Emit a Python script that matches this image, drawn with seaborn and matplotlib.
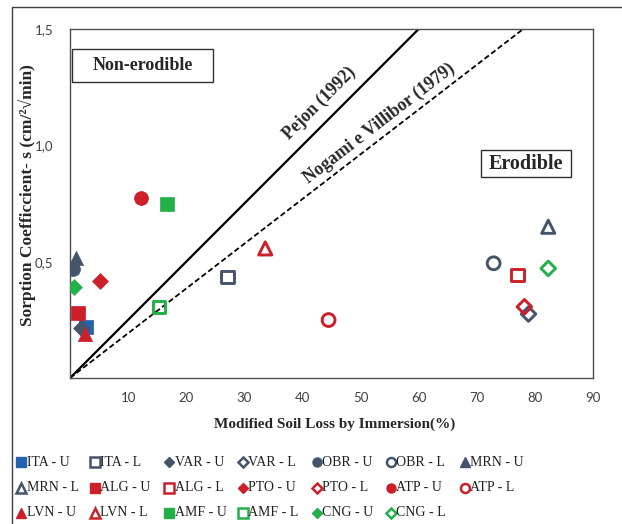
import numpy as np
import pandas as pd
import seaborn as sns
import matplotlib.pyplot as plt
from matplotlib.lines import Line2D
from matplotlib.patches import Rectangle

# samples
samples = ["ITA - U", "ITA - L", "VAR - U", "VAR - L", "OBR - U", "OBR - L", "MRN - U",
           "MRN - L", "ALG - U", "ALG - L", "PTO - U", "PTO - L", "ATP - U", "ATP - L",
           "LVN - U", "LVN - L", "AMF - U", "AMF - L", "CNG - U", "CNG - L"]
soil_loss = [2.75, 27.1, 1.84, 78.9, 0.57, 72.9, 1.03,
             82.3, 1.43, 77.0, 5.16, 78.2, 12.2, 44.5,
             2.58, 33.6, 16.7, 15.3, 0.74, 82.3]
sorption = [0.22, 0.435, 0.213, 0.275, 0.467, 0.493, 0.514,
            0.65, 0.28, 0.443, 0.417, 0.306, 0.775, 0.249,
            0.19, 0.557, 0.748, 0.304, 0.392, 0.471]

navy = "#44546A"
blue = "#2463AE"
red = "#CC1F2A"
green = "#22B04B"
colors = [blue, navy, navy, navy, navy, navy, navy,
          navy, red, red, red, red, red, red,
          red, red, green, green, green, green]
markers = ["s", "s", "D", "D", "o", "o", "^",
           "^", "s", "s", "D", "D", "o", "o",
           "^", "^", "s", "s", "D", "D"]
filled = [s.endswith("U") for s in samples]

# criteria lines: s = loss / k
pejon_k = 40
nogami_k = 52

df = pd.DataFrame({"sample": samples, "loss": soil_loss, "s": sorption})

sns.set_theme(style="white")
serif = ["Liberation Serif", "DejaVu Serif"]
plt.rcParams["font.family"] = ["Lato", "DejaVu Sans"]

fig = plt.figure(figsize=(6.22, 5.24), dpi=100)
ax = fig.add_axes([70 / 622, 1 - 378 / 524, 523 / 622, 349 / 524])

sizes = {"o": 100, "s": 90, "D": 65, "^": 105}
for i, row in df.iterrows():
    m = markers[i]
    if filled[i]:
        sns.scatterplot(x=[row["loss"]], y=[row["s"]], ax=ax, marker=m, s=sizes[m],
                        color=colors[i], edgecolor=colors[i], linewidth=0.5, zorder=3)
    else:
        sns.scatterplot(x=[row["loss"]], y=[row["s"]], ax=ax, marker=m, s=sizes[m] * 0.85,
                        facecolor="none", edgecolor=colors[i], linewidth=2.1, zorder=3)

xs = np.array([0, 90])
ax.plot(xs, xs / pejon_k, color="black", lw=1.6, zorder=2)
ax.plot(xs, xs / nogami_k, color="black", lw=1.3, ls=(0, (3, 1.6)), zorder=2)

ax.set_xlim(0, 90)
ax.set_ylim(0, 1.5)
ax.set_xticks([10, 20, 30, 40, 50, 60, 70, 80, 90])
ax.set_yticks([0.5, 1.0, 1.5])
ax.set_yticklabels(["0,5", "1,0", "1,5"])
ax.tick_params(axis="both", length=0, labelsize=9.5, labelcolor="#404040")
ax.tick_params(axis="x", pad=10)
ax.tick_params(axis="y", pad=12)
for sp in ax.spines.values():
    sp.set_color("#505050")
    sp.set_linewidth(1.0)
ax.set_xlabel("")
ax.set_ylabel("")

# rotated criterion labels
def line_angle(k):
    p0 = ax.transData.transform((0, 0))
    p1 = ax.transData.transform((60, 60 / k))
    return np.degrees(np.arctan2(p1[1] - p0[1], p1[0] - p0[0]))

ax.text(42.9, 1.18, "Pejon (1992)", rotation=line_angle(pejon_k), rotation_mode="anchor",
        ha="center", va="center", fontsize=12.8, fontweight="bold", family=serif)
ax.text(53.3, 1.095, "Nogami e Villibor (1979)", rotation=line_angle(nogami_k),
        rotation_mode="anchor", ha="center", va="center", fontsize=12.8,
        fontweight="bold", family=serif)

# region boxes
ax.add_patch(Rectangle((0.35, 1.272), 24.2, 0.142, facecolor="white", edgecolor="#303030",
                       lw=1.0, zorder=4))
ax.text(12.45, 1.343, "Non-erodible", ha="center", va="center", fontsize=13,
        fontweight="bold", family=serif, zorder=5)
ax.add_patch(Rectangle((70.7, 0.864), 15.5, 0.116, facecolor="white", edgecolor="#303030",
                       lw=1.0, zorder=4))
ax.text(78.45, 0.92, "Erodible", ha="center", va="center", fontsize=14.5,
        fontweight="bold", family=serif, zorder=5)

# axis titles
fig.text(335 / 622, 1 - 424 / 524, "Modified Soil Loss by Immersion(%)", ha="center",
         va="center", fontsize=11, fontweight="bold", family=serif)
fig.text(27 / 622, 1 - 195 / 524, "Sorption Coefficcient- s (cm/²√min)", ha="center",
         va="center", rotation=90, fontsize=12.5, fontweight="bold", family=serif)

# legend laid out in 7 even columns like the original
for i, name in enumerate(samples):
    col, rw = i % 7, i // 7
    x = (21 + col * 74) / 622
    y = 1 - (462 + rw * 25.5) / 524
    fig.add_artist(Line2D([x], [y], marker=markers[i], ls="none",
                          markersize=6.5 if markers[i] != "D" else 5.5,
                          markerfacecolor=colors[i] if filled[i] else "none",
                          markeredgecolor=colors[i], markeredgewidth=1.0 if filled[i] else 1.8,
                          transform=fig.transFigure))
    fig.text(x + 5.5 / 622, y, name, ha="left", va="center", fontsize=10, family=serif,
             color="#202020")

# outer frame
fig.add_artist(Line2D([12 / 622, 12 / 622], [0, 1 - 7 / 524], color="#404040", lw=1.0,
                      transform=fig.transFigure))
fig.add_artist(Line2D([12 / 622, 1], [1 - 7 / 524, 1 - 7 / 524], color="#404040", lw=1.0,
                      transform=fig.transFigure))

fig.savefig("out.png", dpi=100)
